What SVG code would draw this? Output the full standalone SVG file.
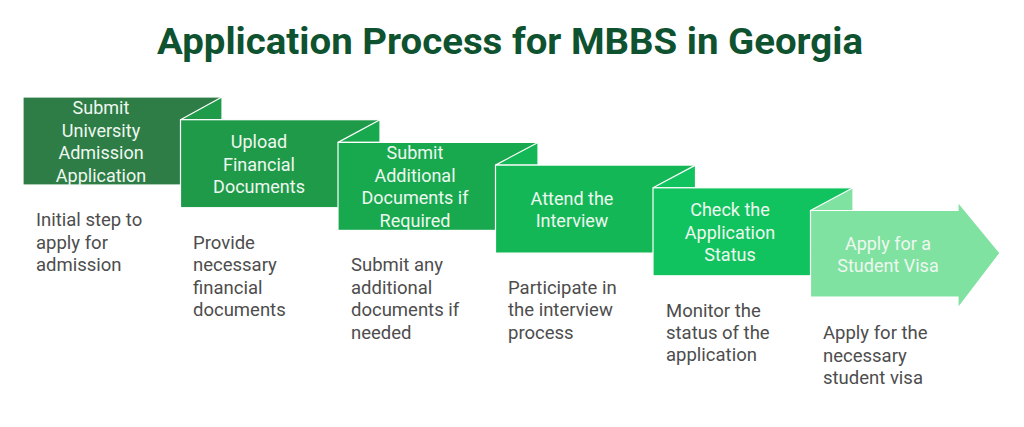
<svg xmlns="http://www.w3.org/2000/svg" width="1024" height="427" viewBox="0 0 1024 427">
<style>
.title{font-family:Roboto,"Liberation Sans",sans-serif;font-weight:700;font-size:37px;fill:#0e5230}
.bt{font-family:Roboto,"Liberation Sans",sans-serif;font-size:18px;fill:#eef8f0;text-anchor:middle;dominant-baseline:central}
.dt{font-family:Roboto,"Liberation Sans",sans-serif;font-size:18.5px;fill:#4d4d4d;dominant-baseline:central}
.bx{stroke:#ffffff;stroke-width:1.2}
</style>
<rect width="1024" height="427" fill="#ffffff"/>
<text class="title" x="157" y="54" textLength="706" lengthAdjust="spacingAndGlyphs">Application Process for MBBS in Georgia</text>

<g id="step1">
<rect class="bx" x="23" y="97" width="199" height="88" fill="#2e7d46"/>
<text class="bt" x="101" y="107">Submit</text>
<text class="bt" x="101" y="130">University</text>
<text class="bt" x="101" y="152">Admission</text>
<text class="bt" x="101" y="175">Application</text>
<text class="dt" x="36" y="220">Initial step to</text>
<text class="dt" x="36" y="243">apply for</text>
<text class="dt" x="36" y="265">admission</text>
</g>

<g id="step2">
<polygon class="bx" points="180.5,119.7 222,97 222,119.7" fill="#1f9a49"/>
<rect class="bx" x="180.5" y="119.7" width="199.5" height="88" fill="#1f9a49"/>
<text class="bt" x="259" y="141">Upload</text>
<text class="bt" x="259" y="164">Financial</text>
<text class="bt" x="259" y="186">Documents</text>
<text class="dt" x="193" y="243">Provide</text>
<text class="dt" x="193" y="265">necessary</text>
<text class="dt" x="193" y="288">financial</text>
<text class="dt" x="193" y="310">documents</text>
</g>

<g id="step3">
<polygon class="bx" points="338,142.4 380,119.7 380,142.4" fill="#18a94f"/>
<rect class="bx" x="338" y="142.4" width="200" height="88" fill="#18a94f"/>
<text class="bt" x="415" y="152">Submit</text>
<text class="bt" x="415" y="175">Additional</text>
<text class="bt" x="415" y="197">Documents if</text>
<text class="bt" x="415" y="220">Required</text>
<text class="dt" x="351" y="265">Submit any</text>
<text class="dt" x="351" y="288">additional</text>
<text class="dt" x="351" y="310">documents if</text>
<text class="dt" x="351" y="333">needed</text>
</g>

<g id="step4">
<polygon class="bx" points="495.5,165.1 538,142.4 538,165.1" fill="#14b756"/>
<rect class="bx" x="495.5" y="165.1" width="200" height="88" fill="#14b756"/>
<text class="bt" x="572" y="198">Attend the</text>
<text class="bt" x="572" y="220">Interview</text>
<text class="dt" x="508" y="288">Participate in</text>
<text class="dt" x="508" y="310">the interview</text>
<text class="dt" x="508" y="333">process</text>
</g>

<g id="step5">
<polygon class="bx" points="653,187.8 695.5,165.1 695.5,187.8" fill="#10c35e"/>
<rect class="bx" x="653" y="187.8" width="200" height="88" fill="#10c35e"/>
<text class="bt" x="730" y="209">Check the</text>
<text class="bt" x="730" y="232">Application</text>
<text class="bt" x="730" y="254">Status</text>
<text class="dt" x="666" y="311">Monitor the</text>
<text class="dt" x="666" y="333">status of the</text>
<text class="dt" x="666" y="355">application</text>
</g>

<g id="step6">
<polygon class="bx" points="810.5,210.5 853,187.8 853,210.5" fill="#80e2a1"/>
<polygon class="bx" points="810.5,210.5 958,210.5 958,202 1000,253 958,308 958,297 810.5,297" fill="#80e2a1"/>
<text class="bt" x="888" y="243">Apply for a</text>
<text class="bt" x="888" y="265">Student Visa</text>
<text class="dt" x="823" y="333">Apply for the</text>
<text class="dt" x="823" y="356">necessary</text>
<text class="dt" x="823" y="378">student visa</text>
</g>

<g id="connectors"></g>
</svg>
